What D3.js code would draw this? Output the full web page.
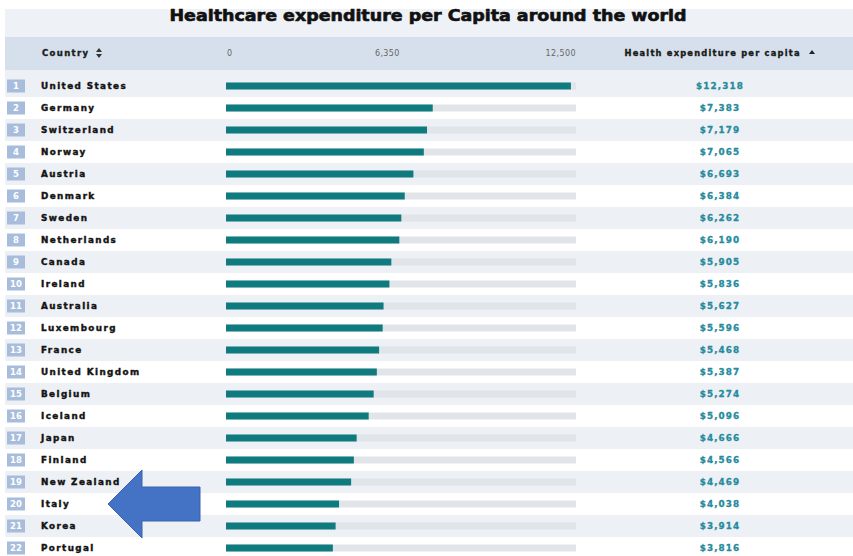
<!DOCTYPE html>
<html>
<head>
<meta charset="utf-8">
<script src="https://cdn.jsdelivr.net/npm/d3@7"></script>
<style>
  html, body { margin: 0; padding: 0; background: #ffffff; }
  svg { display: block; font-family: "DejaVu Sans", "Liberation Sans", sans-serif; }
</style>
</head>
<body>
<svg id="chart" width="853" height="556"></svg>
<script>
// Health expenditure per capita (USD), ranked
const countries = [
  "United States", "Germany", "Switzerland", "Norway", "Austria", "Denmark",
  "Sweden", "Netherlands", "Canada", "Ireland", "Australia", "Luxembourg",
  "France", "United Kingdom", "Belgium", "Iceland", "Japan", "Finland",
  "New Zealand", "Italy", "Korea", "Portugal"
];
const spending = [
  12318, 7383, 7179, 7065, 6693, 6384,
  6262, 6190, 5905, 5836, 5627, 5596,
  5468, 5387, 5274, 5096, 4666, 4566,
  4469, 4038, 3914, 3816
];
const axisTicks = [0, 6350, 12500];
const axisTickLabels = ["0", "6,350", "12,500"];
const titleText = "Healthcare expenditure per Capita around the world";
const highlightedCountry = "Italy";

const rows = countries.map((c, i) => ({ rank: i + 1, country: c, value: spending[i] }));

const svg = d3.select("#chart");
const W = 853;

// layout
const tableLeft = 5;
const headerTop = 37, headerBottom = 70;
const rowStep = 22, firstRowCenter = 86;

const x = d3.scaleLinear().domain([0, 12500]).range([226, 576]);
const y = d3.scaleBand()
  .domain(d3.range(rows.length))
  .range([firstRowCenter - rowStep / 2, firstRowCenter - rowStep / 2 + rowStep * rows.length])
  .paddingInner(0).paddingOuter(0);

const fmt = d3.format(",");

// heavy text helper: bold face plus a thin same-colour outline
function heavy(sel, color, sw) {
  return sel.attr("font-weight", "bold").attr("fill", color)
    .attr("stroke", color).attr("stroke-width", sw).attr("stroke-linejoin", "round");
}

// title band
svg.append("rect").attr("x", tableLeft).attr("y", 9).attr("width", W - tableLeft).attr("height", headerTop - 9)
  .attr("fill", "#eef2f7");
heavy(svg.append("text"), "#111", 0.6)
  .attr("x", 428).attr("y", 21)
  .attr("text-anchor", "middle")
  .attr("font-size", 15)
  .attr("textLength", 517).attr("lengthAdjust", "spacingAndGlyphs")
  .text(titleText);

// header band
svg.append("rect").attr("x", tableLeft).attr("y", headerTop).attr("width", W - tableLeft).attr("height", headerBottom - headerTop)
  .attr("fill", "#d6e0ec");

const headY = 56;
heavy(svg.append("text"), "#1a1a1a", 0.35)
  .attr("x", 42).attr("y", headY)
  .attr("font-size", 8.5)
  .attr("textLength", 46).attr("lengthAdjust", "spacing")
  .text("Country");
// sort glyph next to "Country"
const sortG = svg.append("g").attr("transform", "translate(99,53)").attr("fill", "#333");
sortG.append("path").attr("d", "M-3,-1 L0,-5 L3,-1 Z");
sortG.append("path").attr("d", "M-3,1 L0,5 L3,1 Z");

// scale labels over the bar column
svg.append("g").selectAll("text")
  .data(axisTicks)
  .join("text")
  .attr("x", (d, i) => i === 0 ? x(d) + 1 : (i === axisTicks.length - 1 ? x(d) : x(d) - 4))
  .attr("y", headY)
  .attr("text-anchor", (d, i) => i === 0 ? "start" : "end")
  .attr("font-size", 8).attr("fill", "#666")
  .attr("letter-spacing", 0.4)
  .text((d, i) => axisTickLabels[i]);

heavy(svg.append("text"), "#1a1a1a", 0.35)
  .attr("x", 712).attr("y", headY)
  .attr("text-anchor", "middle")
  .attr("font-size", 8.3)
  .attr("textLength", 175).attr("lengthAdjust", "spacing")
  .text("Health expenditure per capita");
svg.append("path").attr("transform", "translate(812,52)").attr("d", "M-3,2 L0,-2 L3,2 Z").attr("fill", "#222");

// row stripes
svg.append("g").selectAll("rect")
  .data(rows)
  .join("rect")
  .attr("x", tableLeft)
  .attr("y", (d, i) => i === 0 ? headerBottom : y(i))
  .attr("width", W - tableLeft)
  .attr("height", (d, i) => i === 0 ? y(i) + y.bandwidth() - headerBottom : y.bandwidth())
  .attr("fill", (d, i) => i % 2 === 0 ? "#edf1f6" : "#ffffff");

const rowG = svg.append("g").selectAll("g")
  .data(rows)
  .join("g")
  .attr("transform", (d, i) => `translate(0,${y(i) + y.bandwidth() / 2})`);

// rank badges
rowG.append("rect")
  .attr("x", 7).attr("y", -6.5).attr("width", 18).attr("height", 13)
  .attr("fill", "#a7bddb");
rowG.append("text")
  .attr("x", 16).attr("y", 3.3).attr("text-anchor", "middle")
  .attr("font-size", 8.5).attr("font-weight", "bold").attr("fill", "#ffffff")
  .text(d => d.rank);

// country names
heavy(rowG.append("text"), "#141414", 0.4)
  .attr("x", 41).attr("y", 3.3)
  .attr("font-size", 8.8)
  .attr("letter-spacing", 1.4)
  .text(d => d.country);

// bar tracks and bars
rowG.append("rect")
  .attr("x", x(0)).attr("y", -3.5)
  .attr("width", x(12500) - x(0)).attr("height", 7)
  .attr("fill", "#e1e5ea");
rowG.append("rect")
  .attr("x", x(0)).attr("y", -3.5)
  .attr("width", d => x(d.value) - x(0)).attr("height", 7)
  .attr("fill", "#0f7b7f");

// values
heavy(rowG.append("text"), "#268b9c", 0.3)
  .attr("x", 720).attr("y", 3.3).attr("text-anchor", "middle")
  .attr("font-size", 8.8)
  .attr("letter-spacing", 1.1)
  .text(d => "$" + fmt(d.value));

// block arrow pointing at the highlighted country
const hi = countries.indexOf(highlightedCountry);
const cy = y(hi) + y.bandwidth() / 2;
const arrowPts = [
  [108, cy], [142, cy - 34], [142, cy - 17], [200, cy - 17],
  [200, cy + 17], [142, cy + 17], [142, cy + 34]
];
svg.append("path")
  .attr("d", d3.line()(arrowPts) + "Z")
  .attr("fill", "#4472c4")
  .attr("stroke", "#3a62ad").attr("stroke-width", 1);
</script>
</body>
</html>
